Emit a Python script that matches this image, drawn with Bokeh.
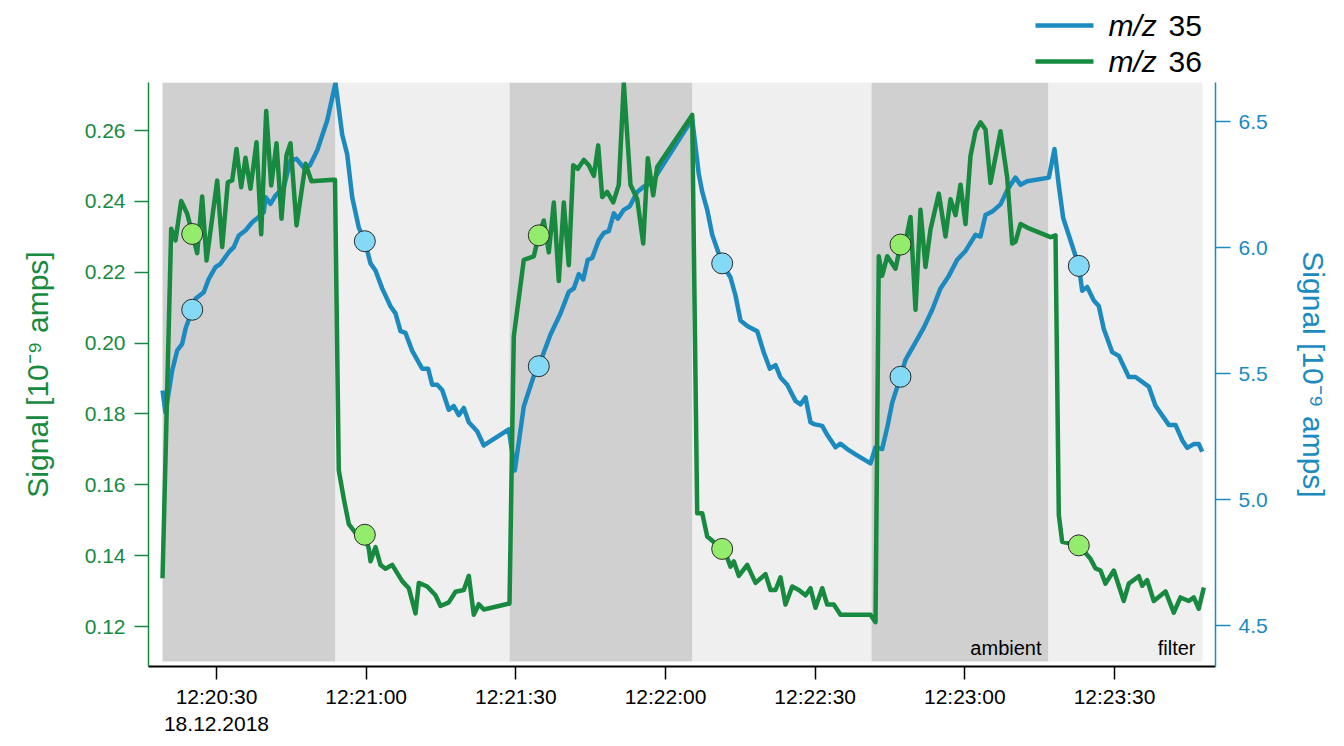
import pandas as pd
from bokeh.plotting import figure
from bokeh.layouts import column
from bokeh.models import (Range1d, LinearAxis, FixedTicker, DatetimeTickFormatter,
                          NumeralTickFormatter, ColumnDataSource)
from bokeh.core.properties import value
from bokeh.embed import file_html
from bokeh.resources import INLINE

# ---------------- data ----------------
DATE = "2018-12-18"
T0 = "12:20:00"          # time origin; series times are seconds after this

# m/z 36 (left axis)
t36 = [19.18, 20.92, 21.78, 22.92, 24.13, 26.13, 27.13, 28.00, 30.14, 31.14,
       32.27, 33.15, 34.01, 34.95, 35.81, 36.81, 38.02, 38.96, 39.96, 40.96,
       42.03, 43.03, 44.03, 44.83, 46.04, 47.84, 49.04, 53.39, 53.75,
       54.51, 55.52, 56.52, 57.86, 59.73, 60.53, 60.87, 61.87, 62.87, 63.87,
       65.22, 67.22, 68.55, 69.89, 70.55, 72.23, 73.90, 74.90, 76.56, 77.91,
       79.57, 80.57, 81.57, 82.58, 83.58, 88.73,
       89.59, 91.60, 93.60, 94.60, 95.60, 96.61, 97.61, 98.61, 99.61, 100.61,
       101.50, 102.42, 103.62, 104.62, 105.63, 106.51, 107.31, 108.31, 109.52, 110.64,
       111.64, 112.98, 114.33, 115.53, 116.45, 117.53, 118.33, 125.35,
       126.35, 127.36, 128.36, 131.36, 132.36, 133.03, 133.69, 134.69, 136.38, 138.04,
       140.04, 141.05, 142.05, 143.05, 144.05, 145.40, 146.72, 148.06, 149.06, 150.06,
       151.41, 152.41, 153.73, 155.08, 161.09, 162.09,
       162.75, 163.43, 164.44, 166.10, 167.10, 168.10, 169.11, 170.11, 171.11, 172.11,
       173.12, 174.78, 176.12, 177.12, 178.13, 179.13, 180.13, 181.13, 182.14, 183.14,
       184.14, 185.14, 187.15, 188.49, 189.49, 190.15, 191.16, 192.50, 197.17, 198.17,
       198.83, 199.51, 202.84, 205.18, 206.19, 207.19, 208.19, 209.86, 211.86, 212.86,
       214.87, 215.55, 216.55, 217.87, 220.22, 221.88, 223.22, 224.89, 225.89, 226.89,
       227.90]
mz36 = [0.1336, 0.2323, 0.2290, 0.2401, 0.2365, 0.2254, 0.2414, 0.2233, 0.2459, 0.2271,
        0.2454, 0.2459, 0.2548, 0.2440, 0.2523, 0.2436, 0.2567, 0.2307, 0.2655, 0.2445,
        0.2564, 0.2351, 0.2530, 0.2564, 0.2332, 0.2506, 0.2457, 0.2461, 0.2461,
        0.1641, 0.1560, 0.1489, 0.1464, 0.1459, 0.1419, 0.1384, 0.1424, 0.1374, 0.1363,
        0.1374, 0.1328, 0.1308, 0.1237, 0.1323, 0.1313, 0.1288, 0.1258, 0.1268, 0.1298,
        0.1303, 0.1343, 0.1233, 0.1263, 0.1248, 0.1265,
        0.2019, 0.2235, 0.2245, 0.2304, 0.2346, 0.2256, 0.2397, 0.2175, 0.2397, 0.2220,
        0.2502, 0.2492, 0.2517, 0.2502, 0.2472, 0.2558, 0.2412, 0.2427, 0.2397, 0.2447,
        0.2734, 0.2447, 0.2406, 0.2281, 0.2522, 0.2417, 0.2497, 0.2644,
        0.1520, 0.1520, 0.1454, 0.1419, 0.1394, 0.1369, 0.1384, 0.1343, 0.1374, 0.1323,
        0.1348, 0.1303, 0.1303, 0.1339, 0.1262, 0.1313, 0.1303, 0.1288, 0.1308, 0.1253,
        0.1308, 0.1262, 0.1262, 0.1233, 0.1233, 0.1212,
        0.2245, 0.2190, 0.2245, 0.2210, 0.2278, 0.2286, 0.2356, 0.2094, 0.2376, 0.2215,
        0.2321, 0.2422, 0.2301, 0.2406, 0.2361, 0.2447, 0.2336, 0.2528, 0.2598, 0.2623,
        0.2603, 0.2452, 0.2598, 0.2467, 0.2281, 0.2286, 0.2336, 0.2326, 0.2299, 0.2304,
        0.1515, 0.1439, 0.1429, 0.1391, 0.1364, 0.1358, 0.1321, 0.1358, 0.1272, 0.1321,
        0.1342, 0.1315, 0.1331, 0.1272, 0.1299, 0.1239, 0.1282, 0.1272, 0.1282, 0.1250,
        0.1310]

# m/z 35 (right axis)
t35 = [19.18, 19.78, 21.12, 22.12, 23.12, 23.79, 25.13, 25.79, 27.45, 28.46,
       29.80, 30.80, 32.47, 33.47, 34.47, 35.81, 37.16, 38.02, 39.48, 39.82,
       40.82, 41.83, 43.49, 44.83, 46.04, 47.38, 48.70, 50.18, 52.19, 53.85,
       55.20, 56.20, 57.20, 58.52, 59.73, 60.87, 61.87, 63.21, 64.88, 65.88,
       66.88, 67.88, 69.23, 71.23, 72.43, 73.24, 74.24, 75.24, 76.56, 77.56,
       78.57, 79.57, 80.57, 82.25, 83.58, 88.59, 89.79,
       91.60, 93.60, 94.60, 95.60, 96.95, 98.95, 100.61, 101.62, 102.62, 103.50,
       104.42, 105.31, 106.63, 107.63, 108.63, 109.64, 110.44, 111.64, 112.84, 114.33,
       115.65, 117.33, 118.33, 125.35,
       126.67, 127.36, 128.36, 129.36, 131.36, 133.03, 134.03, 135.03, 136.38, 138.38,
       139.70, 140.91, 142.05, 143.05, 144.39, 146.05, 147.06, 148.06, 149.06, 149.72,
       151.41, 152.41, 154.07, 155.08, 156.42, 158.08, 161.09, 162.09, 163.43,
       164.44, 165.44, 167.10, 168.10, 169.77, 171.77, 173.46, 175.12, 176.78, 178.47,
       180.13, 182.14, 183.14, 184.14, 185.48, 187.15, 188.49, 190.15, 191.16, 192.50,
       196.83, 197.97,
       198.83, 199.71, 200.84, 202.84, 203.52, 204.52, 205.85, 206.85, 207.85, 209.53,
       210.86, 212.86, 214.20, 216.87, 218.21, 220.88, 222.22, 223.57, 224.57, 225.89,
       226.89, 227.58]
mz35 = [5.4326, 5.3453, 5.5120, 5.5913, 5.6179, 5.6774, 5.7528, 5.7965, 5.8227, 5.8758,
        5.9219, 5.9354, 5.9814, 6.0012, 6.0477, 6.0675, 6.1004, 6.1139, 6.1401, 6.1996,
        6.1734, 6.2064, 6.2393, 6.3453, 6.3520, 6.3187, 6.3254, 6.3849, 6.5040, 6.6528,
        6.4472, 6.3695, 6.1992, 6.0790, 6.0250, 5.9369, 5.9088, 5.8377, 5.7671, 5.7385,
        5.6679, 5.6608, 5.5897, 5.5191, 5.5191, 5.4552, 5.4552, 5.4342, 5.3560, 5.3703,
        5.3350, 5.3632, 5.3064, 5.2711, 5.2144, 5.2783, 5.1152,
        5.3703, 5.4905, 5.5290, 5.5834, 5.6548, 5.7382, 5.8239, 5.8377, 5.8945, 5.8731,
        5.9512, 5.9584, 6.0294, 6.0576, 6.0647, 6.1353, 6.1143, 6.1496, 6.1639, 6.2207,
        6.2421, 6.2560, 6.2913, 6.5100,
        6.2913, 6.2207, 6.1496, 6.0504, 5.9369, 5.8810, 5.8096, 5.7103, 5.6889, 5.6679,
        5.5834, 5.5191, 5.5334, 5.4842, 5.4552, 5.3913, 5.3771, 5.4056, 5.3064, 5.2993,
        5.2921, 5.2568, 5.2072, 5.2215, 5.2001, 5.1791, 5.1433, 5.2072, 5.2001,
        5.2854, 5.3846, 5.4866, 5.5544, 5.6112, 5.6822, 5.7528, 5.8377, 5.8873, 5.9512,
        5.9865, 6.0504, 6.0437, 6.1286, 6.1425, 6.1711, 6.2278, 6.2774, 6.2488, 6.2631,
        6.2774, 6.3909,
        6.2461, 6.1171, 6.0484, 5.9270, 5.8282, 5.8433, 5.7901, 5.7675, 5.6763, 5.5850,
        5.5699, 5.4862, 5.4862, 5.4481, 5.3723, 5.2961, 5.2961, 5.2354, 5.2049, 5.2199,
        5.2199, 5.1898]

# highlighted sample points
mark_t = [25.13, 59.73, 94.60, 131.36, 167.10, 202.84]
mark36 = [0.2308, 0.1459, 0.2304, 0.1419, 0.2278, 0.1429]
mark35 = [5.753, 6.025, 5.529, 5.937, 5.487, 5.927]

# sampling periods (shaded bands)
band_start = [19.18, 53.85, 88.73, 125.41, 161.29, 196.77]
band_end = [53.85, 88.73, 125.41, 161.29, 196.77, 227.64]
band_kind = ["ambient", "filter", "ambient", "filter", "ambient", "filter"]
band_text = ["", "", "", "", "ambient", "filter"]

tick_labels = ["12:20:30", "12:21:00", "12:21:30", "12:22:00",
               "12:22:30", "12:23:00", "12:23:30"]
left_ticks = [0.12, 0.14, 0.16, 0.18, 0.20, 0.22, 0.24, 0.26]
right_ticks = [4.5, 5.0, 5.5, 6.0, 6.5]

series_names = ["35", "36"]

# ---------------- style ----------------
GREEN = "#178a40"
BLUE = "#1a8abf"
GREEN_M = "#93ec6c"
BLUE_M = "#84d9f6"
DARK = "#d0d0d0"
LIGHT = "#efefef"
FONT = "Liberation Sans"

W = 1336
LEG_H = 82
MAIN_H = 656
B_LEFT, B_RIGHT = 148, 121

X_START, X_END = 16.37, 230.24
LEFT_RANGE = (0.10871, 0.27355)
RIGHT_RANGE = (4.3373, 6.6548)
BAND_FLOOR = 0.1101

base = pd.Timestamp(f"{DATE} {T0}")


def ts(sec):
    return base + pd.to_timedelta(sec, unit="s")


# ---------------- legend strip (above the plot) ----------------
# frame spans the same pixels as the main frame; its x units are pixels
lg = figure(width=W, height=LEG_H, x_range=Range1d(B_LEFT, W - B_RIGHT),
            y_range=Range1d(LEG_H, 0),
            x_axis_location=None, y_axis_location=None,
            output_backend="svg", toolbar_location=None,
            min_border_left=B_LEFT, min_border_right=B_RIGHT,
            min_border_top=0, min_border_bottom=0, outline_line_color=None)
lg.xgrid.visible = False
lg.ygrid.visible = False
leg_y = [25, 61]
lg.segment(x0=[1035, 1035], x1=[1093, 1093], y0=leg_y, y1=leg_y,
           line_color=[BLUE, GREEN], line_width=4.5)
lg.text(x=[1108, 1108], y=leg_y, text=["m/z", "m/z"], text_font=value(FONT),
        text_font_style="italic", text_font_size="30px", text_baseline="middle",
        text_color="black")
lg.text(x=[1168, 1168], y=leg_y, text=series_names, text_font=value(FONT),
        text_font_size="30px", text_baseline="middle", text_color="black")

# ---------------- main plot ----------------
p = figure(width=W, height=MAIN_H, x_axis_type="datetime",
           x_range=Range1d(ts(X_START), ts(X_END)),
           y_range=Range1d(*LEFT_RANGE),
           output_backend="svg", toolbar_location=None,
           min_border_left=B_LEFT, min_border_right=B_RIGHT,
           min_border_top=0, min_border_bottom=66)
p.extra_y_ranges = {"right": Range1d(*RIGHT_RANGE)}
p.xgrid.visible = False
p.ygrid.visible = False
p.outline_line_color = None
p.background_fill_color = "white"

# bands
bsrc = ColumnDataSource(dict(
    left=[ts(s) for s in band_start], right=[ts(e) for e in band_end],
    color=[DARK if k == "ambient" else LIGHT for k in band_kind]))
p.quad(left="left", right="right", bottom=BAND_FLOOR, top=LEFT_RANGE[1],
       fill_color="color", line_color=None, source=bsrc)

lab_idx = [i for i, t in enumerate(band_text) if t]
p.text(x=[ts(band_end[i]) for i in lab_idx], y=[BAND_FLOOR] * len(lab_idx),
       text=[band_text[i] for i in lab_idx], text_align="right",
       text_baseline="bottom", x_offset=-7, y_offset=-3,
       text_font=value(FONT), text_font_size="20px", text_color="black")

# lines
p.line([ts(t) for t in t35], mz35, line_color=BLUE, line_width=4.5,
       line_join="round", y_range_name="right")
p.line([ts(t) for t in t36], mz36, line_color=GREEN, line_width=4.5,
       line_join="round")

# markers
p.scatter([ts(t) for t in mark_t], mark35, size=21, fill_color=BLUE_M,
          line_color="#2a2a2a", line_width=1, y_range_name="right")
p.scatter([ts(t) for t in mark_t], mark36, size=21, fill_color=GREEN_M,
          line_color="#2a2a2a", line_width=1)

# x axis
xa = p.xaxis[0]
xa.ticker = FixedTicker(ticks=[pd.Timestamp(f"{DATE} {s}").value / 1e6 for s in tick_labels])
xa.formatter = DatetimeTickFormatter(
    seconds="%H:%M:%S", minsec="%H:%M:%S", minutes="%H:%M:%S",
    hourmin="%H:%M:%S", hours="%H:%M:%S",
    context="%d.%m.%Y", context_which="start", context_location="below")
xa.axis_line_color = "black"
xa.axis_line_width = 2
xa.major_tick_line_color = "black"
xa.major_tick_line_width = 1.5
xa.major_tick_out = 13
xa.major_tick_in = 0
xa.minor_tick_line_color = None
xa.major_label_text_font = FONT
xa.major_label_text_font_size = "21px"
xa.major_label_text_color = "black"
xa.major_label_standoff = 5

# left axis
ya = p.yaxis[0]
ya.ticker = FixedTicker(ticks=left_ticks)
ya.formatter = NumeralTickFormatter(format="0.00")
ya.axis_line_color = GREEN
ya.axis_line_width = 1.5
ya.major_tick_line_color = GREEN
ya.major_tick_line_width = 1.5
ya.major_tick_out = 14
ya.major_tick_in = 0
ya.minor_tick_line_color = None
ya.major_label_text_font = FONT
ya.major_label_text_font_size = "21px"
ya.major_label_text_color = GREEN
ya.major_label_standoff = 9
ya.axis_label = "Signal [10⁻⁹ amps]"
ya.axis_label_text_font = FONT
ya.axis_label_text_font_style = "normal"
ya.axis_label_text_font_size = "30px"
ya.axis_label_text_color = GREEN
ya.axis_label_standoff = 28

# right axis
ra = LinearAxis(y_range_name="right", ticker=FixedTicker(ticks=right_ticks),
                formatter=NumeralTickFormatter(format="0.0"))
ra.axis_line_color = BLUE
ra.axis_line_width = 1.5
ra.major_tick_line_color = BLUE
ra.major_tick_line_width = 1.5
ra.major_tick_out = 15
ra.major_tick_in = 0
ra.minor_tick_line_color = None
ra.major_label_text_font = FONT
ra.major_label_text_font_size = "21px"
ra.major_label_text_color = BLUE
ra.major_label_standoff = 8
ra.axis_label = "Signal [10⁻⁹ amps]"
ra.axis_label_text_font = FONT
ra.axis_label_text_font_style = "normal"
ra.axis_label_text_font_size = "30px"
ra.axis_label_text_color = BLUE
ra.axis_label_standoff = 26
p.add_layout(ra, "right")

layout = column(lg, p, spacing=0)
open("out.html", "w").write(file_html(layout, INLINE))
